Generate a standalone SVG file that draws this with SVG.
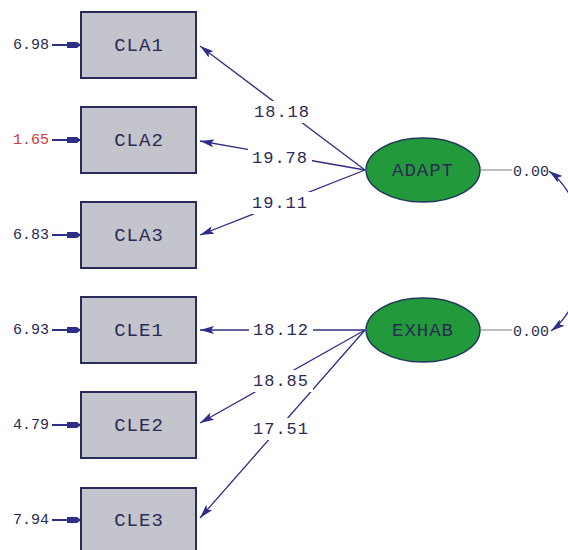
<svg xmlns="http://www.w3.org/2000/svg" width="568" height="550" viewBox="0 0 568 550">
<style>
.box{fill:#c3c4cc;stroke:#2a2a5c;stroke-width:2}
.ell{fill:#229a3c;stroke:#1f3a5a;stroke-width:1.5}
.lbl{font-family:"Liberation Mono","DejaVu Sans Mono",monospace;fill:#2a2a55;text-anchor:middle;dominant-baseline:central}
.nt{font-size:19px;letter-spacing:1px}
.et{font-size:15px}
.pt{font-size:17px;letter-spacing:1px}
.ln{stroke:#2e2e86;stroke-width:1.3;fill:none}
.er{stroke:#2e2e86;stroke-width:2;fill:none}
.gl{stroke:#9a9aa6;stroke-width:1.3;fill:none}
</style>
<defs>
<marker id="ah" viewBox="0 0 14 8" refX="14" refY="4" markerWidth="14" markerHeight="8" markerUnits="userSpaceOnUse" orient="auto-start-reverse">
<path d="M0,0 L14,4 L0,8 L3,4 Z" fill="#2e2e86"/>
</marker>
<marker id="eh" viewBox="0 0 14 8" refX="14" refY="4" markerWidth="14" markerHeight="8" markerUnits="userSpaceOnUse" orient="auto">
<path d="M0,1 L10,1 L14,4 L10,7 L0,7 Z" fill="#2e2e86"/>
</marker>
<mask id="gaps" maskUnits="userSpaceOnUse" x="0" y="0" width="568" height="550">
<rect x="0" y="0" width="568" height="550" fill="#ffffff"/>
<rect x="250" y="101" width="64" height="22" fill="#000000"/>
<rect x="248" y="147" width="64" height="22" fill="#000000"/>
<rect x="248" y="192" width="64" height="22" fill="#000000"/>
<rect x="249" y="319" width="64" height="22" fill="#000000"/>
<rect x="249" y="370" width="64" height="22" fill="#000000"/>
<rect x="249" y="418" width="64" height="22" fill="#000000"/>
</mask>
</defs>
<rect width="568" height="550" fill="#ffffff"/>
<g id="connectors">
<g mask="url(#gaps)">
<line class="ln" x1="365" y1="170" x2="200" y2="46" marker-end="url(#ah)"/>
<line class="ln" x1="365" y1="170" x2="200" y2="141" marker-end="url(#ah)"/>
<line class="ln" x1="365" y1="170" x2="200" y2="235" marker-end="url(#ah)"/>
<line class="ln" x1="365" y1="330" x2="200" y2="330" marker-end="url(#ah)"/>
<line class="ln" x1="365" y1="330" x2="200" y2="423" marker-end="url(#ah)"/>
<line class="ln" x1="365" y1="330" x2="200" y2="518" marker-end="url(#ah)"/>
</g>
<line class="er" x1="52" y1="45" x2="81" y2="45" marker-end="url(#eh)"/>
<line class="er" x1="52" y1="140" x2="81" y2="140" marker-end="url(#eh)"/>
<line class="er" x1="52" y1="235" x2="81" y2="235" marker-end="url(#eh)"/>
<line class="er" x1="52" y1="330" x2="81" y2="330" marker-end="url(#eh)"/>
<line class="er" x1="52" y1="425" x2="81" y2="425" marker-end="url(#eh)"/>
<line class="er" x1="52" y1="520" x2="81" y2="520" marker-end="url(#eh)"/>
<line class="gl" x1="481" y1="170" x2="512" y2="170"/>
<line class="gl" x1="481" y1="330" x2="512" y2="330"/>
<path class="ln" d="M549,171 C595,205 595,298 551,331" marker-start="url(#ah)" marker-end="url(#ah)"/>
<text class="lbl pt" x="282" y="112">18.18</text>
<text class="lbl pt" x="280" y="158">19.78</text>
<text class="lbl pt" x="280" y="203">19.11</text>
<text class="lbl pt" x="281" y="330">18.12</text>
<text class="lbl pt" x="281" y="381">18.85</text>
<text class="lbl pt" x="281" y="429">17.51</text>
<text class="lbl et" x="31" y="45">6.98</text>
<text class="lbl et" x="31" y="140" style="fill:#d03a3a">1.65</text>
<text class="lbl et" x="31" y="235">6.83</text>
<text class="lbl et" x="31" y="330">6.93</text>
<text class="lbl et" x="31" y="425">4.79</text>
<text class="lbl et" x="31" y="520">7.94</text>
<text class="lbl et" x="531" y="172">0.00</text>
<text class="lbl et" x="531" y="332">0.00</text>
</g>
<g id="CLA1"><rect class="box" x="81" y="12" width="115" height="66"/><text class="lbl nt" x="139" y="46">CLA1</text></g>
<g id="CLA2"><rect class="box" x="81" y="107" width="115" height="66"/><text class="lbl nt" x="139" y="141">CLA2</text></g>
<g id="CLA3"><rect class="box" x="81" y="202" width="115" height="66"/><text class="lbl nt" x="139" y="236">CLA3</text></g>
<g id="CLE1"><rect class="box" x="81" y="297" width="115" height="66"/><text class="lbl nt" x="139" y="331">CLE1</text></g>
<g id="CLE2"><rect class="box" x="81" y="392" width="115" height="66"/><text class="lbl nt" x="139" y="426">CLE2</text></g>
<g id="CLE3"><rect class="box" x="81" y="488" width="115" height="66"/><text class="lbl nt" x="139" y="521">CLE3</text></g>
<g id="ADAPT"><ellipse class="ell" cx="423" cy="170" rx="57" ry="32"/><text class="lbl nt" x="423" y="171">ADAPT</text></g>
<g id="EXHAB"><ellipse class="ell" cx="423" cy="330" rx="57" ry="32"/><text class="lbl nt" x="423" y="331">EXHAB</text></g>
</svg>
